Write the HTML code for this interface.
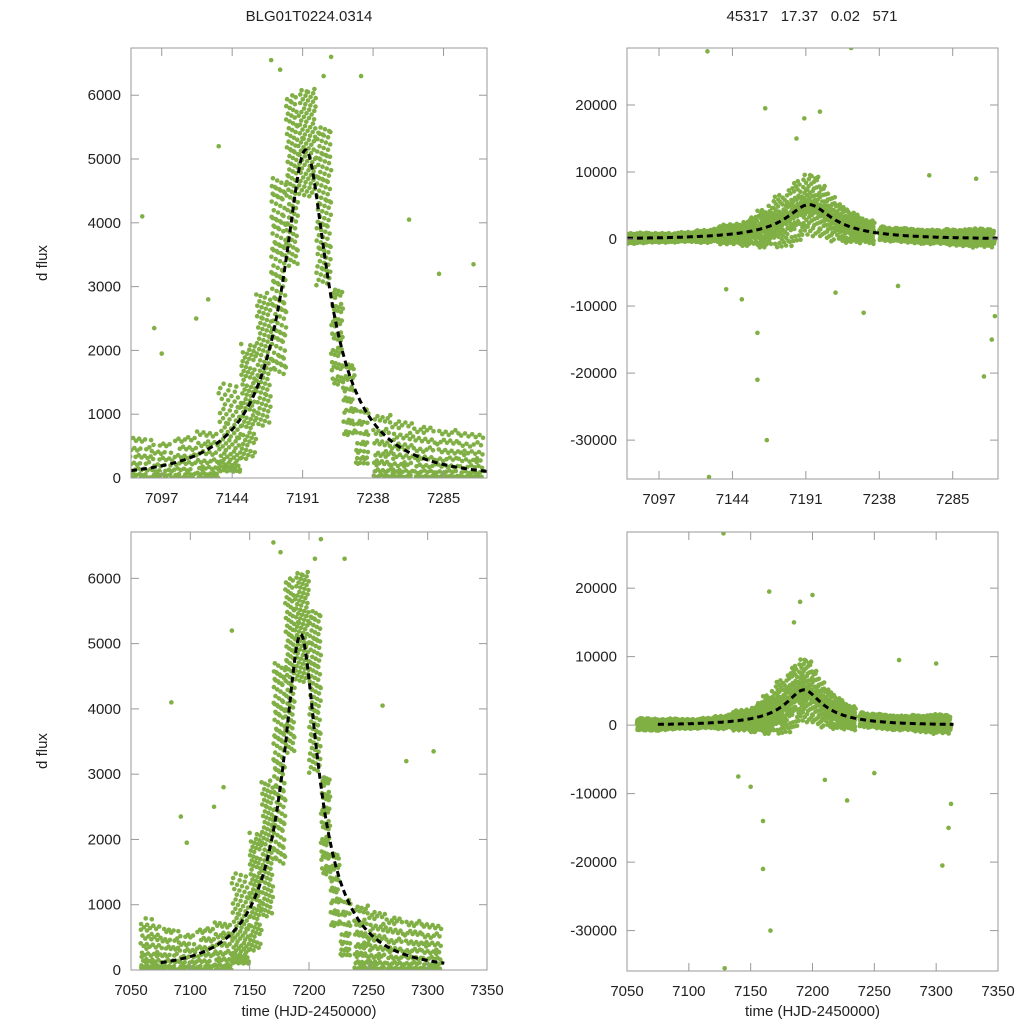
<!DOCTYPE html>
<html><head><meta charset="utf-8"><style>
body{margin:0;background:#fff;}
svg{display:block;font-family:"Liberation Sans",sans-serif;}
</style></head><body>
<svg id="c" width="1024" height="1024"></svg>
<script>
// model parameters (Paczynski fit)
const modelT0 = [7193];
const modelU0 = [0.2];
const modelTE = [68];
const modelFs = [1262];
// left-panel scatter envelope bins: start time, end time, low flux, high flux
const binStart = [7058,7076,7090,7105,7120,7135,7150,7160,7170,7180,7188,7200,7210,7218,7226,7238,7250,7265,7280,7295];
const binEnd   = [7076,7090,7105,7120,7135,7150,7160,7170,7180,7188,7200,7210,7218,7226,7235,7250,7265,7280,7295,7312];
const binLo    = [0,0,0,0,0,100,300,800,1600,3300,4400,3000,1400,600,200,0,0,0,0,0];
const binHi    = [800,700,600,700,800,1500,2100,2900,4700,6000,6100,5500,3000,1800,1100,1000,900,800,750,700];
// right-panel scatter half-width about model per bin
const binSpread = [900,800,700,700,900,1400,1800,2600,3500,4000,3500,3000,2400,2000,1600,900,1000,1000,1200,1400];
// outliers
const outLeftT = [7084,7092,7097,7120,7128,7135,7262,7282,7305,7230,7170,7210,7176,7205,7150];
const outLeftF = [4100,2350,1950,2500,2800,5200,4050,3200,3350,6300,6550,6600,6400,6300,2100];
const outRightT = [7128,7129,7166,7160,7160,7305,7310,7312,7220,7165,7200,7190,7228,7300,7270,7250,7140,7150,7185,7210];
const outRightF = [28000,-35500,-30000,-21000,-14000,-20500,-15000,-11500,28500,19500,19000,18000,-11000,9000,9500,-7000,-7500,-9000,15000,-8000];
const xTopTicks = [7097,7144,7191,7238,7285];
const xBotTicks = [7050,7100,7150,7200,7250,7300,7350];
const yLeftTicks = [0,1000,2000,3000,4000,5000,6000];
const yRightTicks = [-30000,-20000,-10000,0,10000,20000];

const NS="http://www.w3.org/2000/svg";
const svg=document.getElementById('c');
function mk(tag,attrs,parent){const e=document.createElementNS(NS,tag);for(const k in attrs)e.setAttribute(k,attrs[k]);(parent||svg).appendChild(e);return e;}
function model(t){const u=Math.sqrt(modelU0[0]**2+((t-modelT0[0])/modelTE[0])**2);const A=(u*u+2)/(u*Math.sqrt(u*u+4));return modelFs[0]*(A-1);}
function frac(x){return x-Math.floor(x);}

const panels=[
 {name:'top-left',x0:131,x1:487,y0:48,y1:478,t0:7076.5,t1:7314,f0:0,f1:6740,xt:xTopTicks,yt:yLeftTicks,right:false,xlab:false},
 {name:'top-right',x0:627,x1:998,y0:48,y1:479,t0:7076.5,t1:7314,f0:-35800,f1:28500,xt:xTopTicks,yt:yRightTicks,right:true,xlab:false},
 {name:'bottom-left',x0:131,x1:487,y0:532,y1:970,t0:7050,t1:7350,f0:0,f1:6710,xt:xBotTicks,yt:yLeftTicks,right:false,xlab:true},
 {name:'bottom-right',x0:627,x1:998,y0:532,y1:971,t0:7050,t1:7350,f0:-35900,f1:28200,xt:xBotTicks,yt:yRightTicks,right:true,xlab:true}
];
panels.forEach((p,pi)=>{
 const g=mk('g',{});
 
 
 const defs=mk('defs',{},g);
 const cp=mk('clipPath',{id:'cp'+pi},defs);
 mk('rect',{x:p.x0,y:p.y0,width:p.x1-p.x0,height:p.y1-p.y0},cp);
 const X=t=>p.x0+(t-p.t0)/(p.t1-p.t0)*(p.x1-p.x0);
 const Y=f=>p.y1-(f-p.f0)/(p.f1-p.f0)*(p.y1-p.y0);
 const pts=mk('g',{'clip-path':'url(#cp'+pi+')',fill:'#80b045'},g);
 
 
 for(let b=0;b<binStart.length;b++){
  const dt=binEnd[b]-binStart[b];
  let n;
  if(!p.right) n=Math.round(dt*(binHi[b]-binLo[b])/230);
  else n=Math.round(dt*8);
  n=Math.min(n,500);
  for(let i=1;i<=n;i++){
   const t=binStart[b]+frac(0.5+i*0.7548776662+b*0.13)*dt;
   const v=frac(0.5+i*0.5698402910+b*0.29);
   let f;
   if(!p.right) f=binLo[b]+(binLo[b]<300?Math.pow(v,1.5):v)*(binHi[b]-binLo[b]);
   else {const s=(v*2-1);f=model(t)*(1+0.25*s)+s*Math.abs(s)*binSpread[b];}
   mk('circle',{cx:X(t).toFixed(1),cy:Y(f).toFixed(1),r:2.3},pts);
  }
 }
 const oT=p.right?outRightT:outLeftT, oF=p.right?outRightF:outLeftF;
 for(let i=0;i<oT.length;i++) mk('circle',{cx:X(oT[i]),cy:Y(oF[i]),r:2.3},pts);
 let d='';
 const ts=Math.max(p.t0,7075), te=Math.min(p.t1,7314);
 for(let t=ts;t<=te;t+=0.5){d+=(d?'L':'M')+X(t).toFixed(1)+','+Y(model(t)).toFixed(1);}
 const ml=mk('path',{d:d,fill:'none',stroke:'#000','stroke-width':3,'stroke-dasharray':'6,4','clip-path':'url(#cp'+pi+')'},g);
 
 
 const fr=mk('rect',{x:p.x0,y:p.y0,width:p.x1-p.x0,height:p.y1-p.y0,fill:'none',stroke:'#999','stroke-width':1},g);
 
 
 p.xt.forEach(t=>{const x=X(t);
  mk('line',{x1:x,x2:x,y1:p.y1,y2:p.y1-8,stroke:'#999'},g);
  mk('line',{x1:x,x2:x,y1:p.y0,y2:p.y0+8,stroke:'#999'},g);
  const tx=mk('text',{x:x,y:p.y1+25,'text-anchor':'middle','font-size':15,fill:'#222'},g);tx.textContent=t;
  
  
 });
 p.yt.forEach(f=>{const y=Y(f);
  mk('line',{x1:p.x0,x2:p.x0+8,y1:y,y2:y,stroke:'#999'},g);
  mk('line',{x1:p.x1,x2:p.x1-8,y1:y,y2:y,stroke:'#999'},g);
  const tx=mk('text',{x:p.x0-10,y:y+5,'text-anchor':'end','font-size':15,fill:'#222'},g);tx.textContent=f;
  
  
 });
 if(p.xlab){const tx=mk('text',{x:(p.x0+p.x1)/2,y:1016,'text-anchor':'middle','font-size':15,fill:'#222'},g);tx.textContent='time (HJD-2450000)';
  
  }
 if(!p.right){const yc=(p.y0+p.y1)/2;const tx=mk('text',{x:47,y:yc,'text-anchor':'middle','font-size':15,fill:'#222',transform:'rotate(-90 47 '+yc+')'},g);tx.textContent='d flux';
  
  }
});
let t1=mk('text',{x:309,y:21,'text-anchor':'middle','font-size':15,fill:'#222'});t1.textContent='BLG01T0224.0314';


let t2=mk('text',{x:812,y:21,'text-anchor':'middle','font-size':15,fill:'#222',style:'white-space:pre'});t2.textContent='45317   17.37   0.02   571';


</script>
</body></html>
